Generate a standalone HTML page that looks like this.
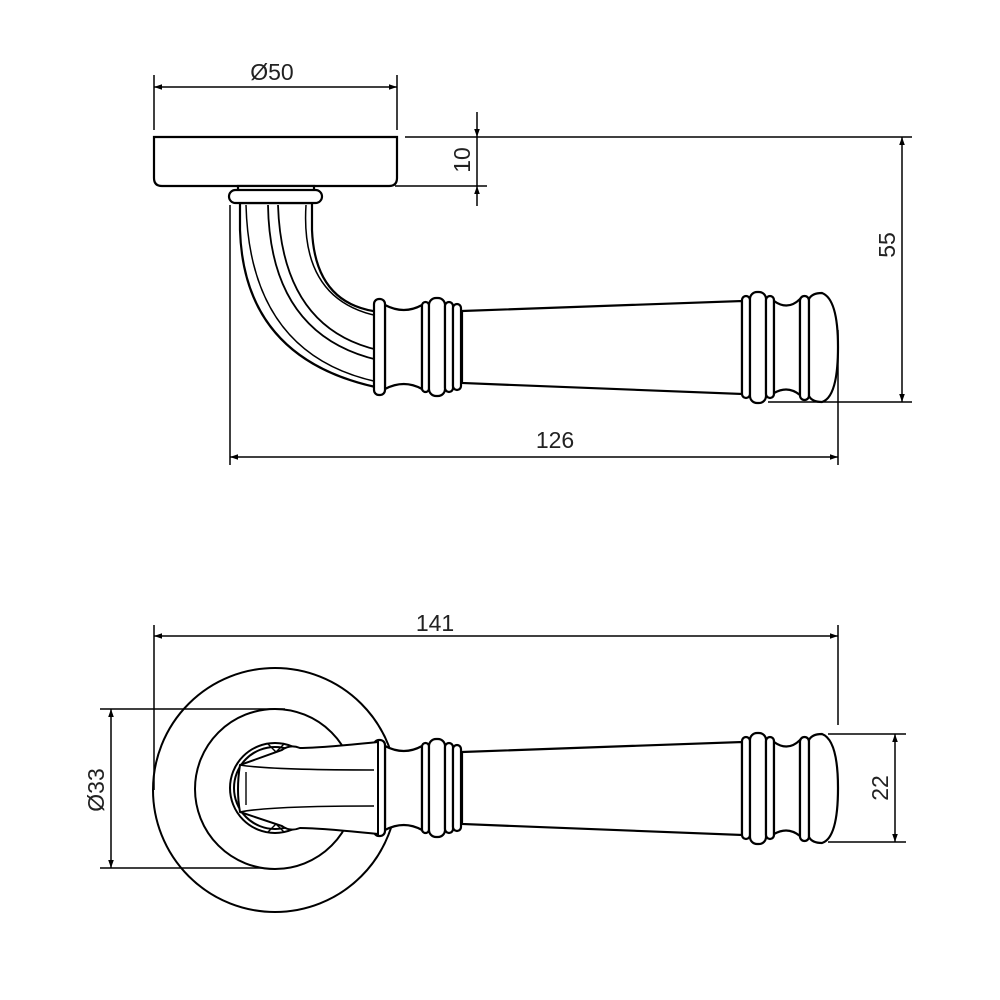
<!DOCTYPE html>
<html><head><meta charset="utf-8"><style>html,body{margin:0;padding:0;background:#fff}svg{display:block}</style></head><body>
<svg width="1000" height="1000" viewBox="0 0 1000 1000" xmlns="http://www.w3.org/2000/svg" font-family="Liberation Sans, sans-serif">
<defs>
<marker id="a" viewBox="0 0 10 10" refX="10" refY="5" markerWidth="8" markerHeight="8" orient="auto-start-reverse" markerUnits="userSpaceOnUse"><path d="M0,1.5 L10,5 L0,8.5z" fill="#000"/></marker>
<g id="h" fill="#fff" stroke="#000" stroke-width="2.2">
<path d="M462,752 L742,742 L742,835 L462,824 Z"/>
<path d="M385,746 Q404,756 422,746 L422,830 Q404,820 385,830 Z"/>
<rect x="374" y="740" width="11" height="96" rx="5"/>
<rect x="422" y="743" width="7" height="90" rx="3.5"/>
<rect x="429" y="739" width="16" height="98" rx="7"/>
<rect x="445" y="743" width="8" height="90" rx="4"/>
<rect x="453" y="745" width="8" height="86" rx="4"/>
<rect x="742" y="737" width="8" height="102" rx="4"/>
<rect x="750" y="733" width="16" height="111" rx="7"/>
<rect x="766" y="737" width="8" height="102" rx="4"/>
<path d="M774,742 Q788,752 800,740 L800,836 Q788,826 774,834 Z"/>
<rect x="800" y="737" width="9" height="104" rx="4.5"/>
<path d="M809,740 Q812,734 822,734 Q838,740 838,788 Q838,838 822,843 Q812,843 809,837 Z"/>
</g>
</defs>
<g stroke="#000" stroke-width="1.5" fill="none">
<line x1="154" y1="75" x2="154" y2="130"/><line x1="397" y1="75" x2="397" y2="130"/>
<line x1="154" y1="87" x2="397" y2="87" marker-start="url(#a)" marker-end="url(#a)"/>
<line x1="405" y1="137" x2="912" y2="137"/><line x1="395" y1="186" x2="487" y2="186"/>
<line x1="477" y1="112" x2="477" y2="137" marker-end="url(#a)"/>
<line x1="477" y1="206" x2="477" y2="186" marker-end="url(#a)"/>
<line x1="477" y1="137" x2="477" y2="186"/>
<line x1="902" y1="137" x2="902" y2="402" marker-start="url(#a)" marker-end="url(#a)"/>
<line x1="768" y1="402" x2="912" y2="402"/>
<line x1="230" y1="205" x2="230" y2="465"/><line x1="838" y1="330" x2="838" y2="465"/>
<line x1="230" y1="457" x2="838" y2="457" marker-start="url(#a)" marker-end="url(#a)"/>
<line x1="154" y1="625" x2="154" y2="790"/><line x1="838" y1="625" x2="838" y2="725"/>
<line x1="154" y1="636" x2="838" y2="636" marker-start="url(#a)" marker-end="url(#a)"/>
<line x1="100" y1="709" x2="285" y2="709"/><line x1="100" y1="868" x2="285" y2="868"/>
<line x1="111" y1="709" x2="111" y2="868" marker-start="url(#a)" marker-end="url(#a)"/>
<line x1="828" y1="734" x2="906" y2="734"/><line x1="828" y1="842" x2="906" y2="842"/>
<line x1="895" y1="734" x2="895" y2="842" marker-start="url(#a)" marker-end="url(#a)"/>
</g>
<g font-size="23" fill="#222">
<text x="272" y="80" text-anchor="middle">Ø50</text>
<text transform="translate(470,160) rotate(-90)" text-anchor="middle">10</text>
<text transform="translate(895,245) rotate(-90)" text-anchor="middle">55</text>
<text x="555" y="448" text-anchor="middle">126</text>
<text x="435" y="631" text-anchor="middle">141</text>
<text transform="translate(104,790) rotate(-90)" text-anchor="middle">Ø33</text>
<text transform="translate(888,788) rotate(-90)" text-anchor="middle">22</text>
</g>
<g fill="#fff" stroke="#000" stroke-width="2.2">
<path d="M154,137 L397,137 L397,178 Q397,186 389,186 L162,186 Q154,186 154,178 Z"/>
<path d="M240,203 L240,230 Q244,360 380,388 L380,312 Q315,305 312,230 L312,203 Z"/>
<path d="M246,205 Q250,355 378,382" fill="none" stroke-width="1.5"/>
<path d="M268,205 Q270,335 378,360" fill="none" stroke-width="1.8"/>
<path d="M278,205 Q282,328 378,350" fill="none" stroke-width="1.8"/>
<path d="M306,205 Q300,300 378,316" fill="none" stroke-width="1.5"/>
<rect x="238" y="186" width="76" height="6"/>
<rect x="229" y="190" width="93" height="13" rx="6.5"/>
</g>
<use href="#h" transform="translate(0,-441)"/>
<g fill="none" stroke="#000" stroke-width="2">
<circle cx="275" cy="790" r="122"/>
<circle cx="275" cy="789" r="80" fill="#fff"/>
<circle cx="275" cy="788" r="45" fill="#fff"/>
<circle cx="275" cy="788" r="41"/>
</g>
<use href="#h"/>
<g fill="#fff" stroke="#000" stroke-width="2">
<path d="M378,742 Q320,748 300,748 Q290,744 282,750 L240,765 Q236,790 240,812 L282,826 Q290,832 300,828 Q320,828 378,834 Z"/>
<path d="M240,765 Q270,770 374,770" fill="none" stroke-width="1.6"/>
<path d="M240,812 Q270,806 374,806" fill="none" stroke-width="1.6"/>
<path d="M246,772 L246,805" fill="none" stroke-width="1.4"/>
<path d="M268,744 L276,752 L284,744 M268,832 L276,824 L284,832" fill="none" stroke-width="1.4"/>
</g>
</svg>
</body></html>
